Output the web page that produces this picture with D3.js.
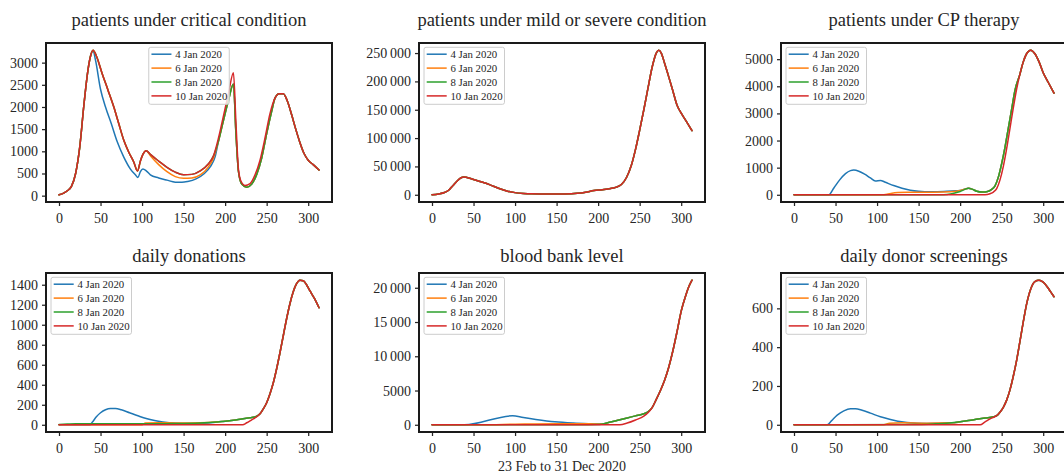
<!DOCTYPE html>
<html><head><meta charset="utf-8">
<script src="https://cdn.jsdelivr.net/npm/d3@7"></script>
<style>
html,body{margin:0;padding:0;background:#fff;}
svg{display:block;}
text{font-family:"Liberation Serif","Times New Roman",serif;fill:#262626;}
</style></head>
<body>
<svg id="chart" width="1064" height="476"></svg>
<script>
// ---------- DATA ----------
const seriesLabels = ["4 Jan 2020", "6 Jan 2020", "8 Jan 2020", "10 Jan 2020"];
const panelTitles = ["patients under critical condition", "patients under mild or severe condition",
  "patients under CP therapy", "daily donations", "blood bank level", "daily donor screenings"];
const xTicks = [0, 50, 100, 150, 200, 250, 300];
const xLabel = "23 Feb to 31 Dec 2020";

// patients under critical condition  [day, value]
const critical_4 = [[0,20],[5,50],[10,110],[15,210],[20,500],[25,1100],[30,2050],[35,2850],[38,3150],[41,3270],[44,3050],[50,2400],[56,2000],[63,1620],[70,1220],[78,870],[86,600],[92,470],[95,410],[98,540],[101,600],[105,560],[110,470],[120,400],[130,350],[140,305],[148,300],[155,320],[165,380],[175,500],[182,650],[188,880],[192,1230],[198,1700],[204,2150],[210,2520],[213,1400],[216,550],[220,260],[226,190],[232,260],[238,480],[244,850],[250,1400],[256,1900],[260,2200],[265,2300],[270,2300],[275,2130],[280,1830],[285,1500],[290,1200],[295,950],[300,800],[306,700],[313,580]];
const critical_6 = [[0,20],[5,50],[10,110],[15,210],[20,500],[25,1100],[30,2050],[35,2850],[38,3150],[41,3280],[45,3150],[52,2750],[59,2380],[66,2000],[72,1620],[78,1250],[84,980],[90,760],[94.5,555],[98,780],[101,930],[105,1015],[110,900],[120,700],[130,540],[140,430],[150,390],[160,400],[170,470],[180,650],[186,850],[192,1230],[198,1700],[204,2150],[210,2520],[213,1400],[216,550],[220,260],[226,190],[232,260],[238,480],[244,850],[250,1400],[256,1900],[260,2200],[265,2300],[270,2300],[275,2130],[280,1830],[285,1500],[290,1200],[295,950],[300,800],[306,700],[313,580]];
const critical_8 = [[0,20],[5,50],[10,110],[15,210],[20,500],[25,1100],[30,2050],[35,2850],[38,3150],[41,3280],[45,3150],[52,2750],[59,2380],[66,2000],[72,1620],[78,1250],[84,980],[90,760],[94.5,555],[98,780],[101,930],[105,1015],[110,930],[120,780],[130,640],[140,530],[150,470],[160,480],[170,560],[180,720],[186,900],[192,1230],[198,1700],[204,2150],[210,2520],[213,1400],[216,550],[220,260],[226,190],[232,260],[238,480],[244,850],[250,1400],[256,1900],[260,2200],[265,2300],[270,2300],[275,2130],[280,1830],[285,1500],[290,1200],[295,950],[300,800],[306,700],[313,580]];
const critical_10 = [[0,20],[5,50],[10,110],[15,210],[20,500],[25,1100],[30,2050],[35,2850],[38,3150],[41,3280],[45,3150],[52,2750],[59,2380],[66,2000],[72,1620],[78,1250],[84,980],[90,760],[94.5,555],[98,780],[101,930],[105,1015],[110,930],[120,780],[130,640],[140,530],[150,470],[160,480],[170,560],[180,720],[186,900],[192,1300],[198,1800],[204,2300],[210,2770],[213,1650],[216,600],[219,330],[224,230],[230,270],[236,470],[242,800],[248,1300],[254,1850],[260,2200],[265,2300],[270,2300],[275,2130],[280,1830],[285,1500],[290,1200],[295,950],[300,800],[306,700],[313,580]];

// patients under mild or severe condition (all four forecasts coincide)
const mild_4 = [[0,0],[8,1500],[15,4000],[20,8000],[25,16000],[30,24000],[35,30000],[38,31500],[42,30500],[50,27000],[60,22500],[70,17500],[80,11500],[90,6800],[100,3800],[110,2300],[120,1600],[140,1300],[160,1400],[175,2500],[185,4500],[195,7500],[205,9000],[215,11000],[222,13500],[228,18000],[234,30000],[240,52000],[245,80000],[250,114000],[255,150000],[260,188000],[265,225000],[270,250000],[273,255000],[276,250000],[280,232000],[285,208000],[290,183000],[295,158000],[300,144000],[306,130000],[313,113000]];
const mild_6 = mild_4;
const mild_8 = mild_4;
const mild_10 = mild_4;

// patients under CP therapy
const cp_4 = [[0,0],[42,0],[48,250],[55,550],[62,780],[68,890],[72,910],[78,870],[85,760],[92,620],[98,510],[104,530],[110,460],[120,340],[130,240],[140,170],[150,130],[165,110],[180,120],[195,150],[200,160],[205,200],[210,240],[215,200],[220,130],[227,100],[233,120],[238,200],[242,330],[246,650],[250,1150],[254,1750],[258,2450],[262,3150],[266,3850],[272,4450],[276,4900],[280,5200],[285,5330],[290,5200],[295,4900],[300,4500],[306,4150],[313,3750]];
const cp_6 = [[0,0],[105,0],[112,20],[118,60],[125,80],[140,90],[160,95],[180,100],[195,130],[200,160],[205,200],[210,240],[215,200],[220,130],[227,100],[233,120],[238,200],[242,330],[246,650],[250,1150],[254,1750],[258,2450],[262,3150],[266,3850],[272,4450],[276,4900],[280,5200],[285,5330],[290,5200],[295,4900],[300,4500],[306,4150],[313,3750]];
const cp_8 = [[0,0],[180,0],[190,40],[200,120],[205,190],[210,240],[215,200],[220,130],[227,100],[233,120],[238,200],[242,330],[246,650],[250,1150],[254,1750],[258,2450],[262,3150],[266,3850],[272,4450],[276,4900],[280,5200],[285,5330],[290,5200],[295,4900],[300,4500],[306,4150],[313,3750]];
const cp_10 = [[0,0],[230,0],[236,40],[240,100],[244,230],[248,550],[252,1050],[256,1700],[260,2450],[264,3200],[268,3900],[272,4450],[276,4900],[280,5200],[285,5330],[290,5200],[295,4900],[300,4500],[306,4150],[313,3750]];

// daily donations
const don_4 = [[0,0],[37,0],[40,25],[45,80],[50,120],[56,150],[62,162],[68,162],[75,150],[85,120],[95,90],[105,62],[115,42],[125,28],[140,16],[160,12],[180,18],[190,28],[200,35],[210,45],[220,58],[230,70],[238,85],[242,110],[246,160],[250,220],[254,310],[258,420],[262,560],[266,720],[270,890],[274,1060],[278,1210],[282,1330],[286,1410],[290,1445],[294,1440],[298,1400],[302,1340],[307,1270],[313,1170]];
const don_6 = [[0,0],[100,0],[104,18],[120,20],[140,18],[160,18],[180,22],[190,28],[200,35],[210,45],[220,58],[230,70],[238,85],[242,110],[246,160],[250,220],[254,310],[258,420],[262,560],[266,720],[270,890],[274,1060],[278,1210],[282,1330],[286,1410],[290,1445],[294,1440],[298,1400],[302,1340],[307,1270],[313,1170]];
const don_8 = [[0,3],[10,7],[20,10],[60,10],[100,10],[140,12],[170,18],[190,28],[200,35],[210,45],[220,58],[230,70],[238,85],[242,110],[246,160],[250,220],[254,310],[258,420],[262,560],[266,720],[270,890],[274,1060],[278,1210],[282,1330],[286,1410],[290,1445],[294,1440],[298,1400],[302,1340],[307,1270],[313,1170]];
const don_10 = [[0,0],[221,0],[226,20],[232,50],[238,80],[242,110],[246,160],[250,220],[254,310],[258,420],[262,560],[266,720],[270,890],[274,1060],[278,1210],[282,1330],[286,1410],[290,1445],[294,1440],[298,1400],[302,1340],[307,1270],[313,1170]];

// blood bank level
const bank_4 = [[0,0],[39,0],[97,1310],[110,1050],[125,780],[148,440],[170,260],[192,150],[204,100],[215,400],[225,700],[235,1000],[245,1300],[255,1600],[260,1900],[265,2500],[270,3700],[275,5000],[280,6500],[285,8400],[290,10800],[295,13600],[300,16600],[305,18700],[309,20100],[313,21100]];
const bank_6 = [[0,0],[60,0],[100,80],[150,150],[200,120],[204,110],[215,400],[225,700],[235,1000],[245,1300],[255,1600],[260,1900],[265,2500],[270,3700],[275,5000],[280,6500],[285,8400],[290,10800],[295,13600],[300,16600],[305,18700],[309,20100],[313,21100]];
const bank_8 = [[0,0],[150,0],[200,30],[204,80],[215,400],[225,700],[235,1000],[245,1300],[255,1600],[260,1900],[265,2500],[270,3700],[275,5000],[280,6500],[285,8400],[290,10800],[295,13600],[300,16600],[305,18700],[309,20100],[313,21100]];
const bank_10 = [[0,0],[226,0],[235,250],[245,700],[255,1250],[260,1750],[265,2500],[270,3700],[275,5000],[280,6500],[285,8400],[290,10800],[295,13600],[300,16600],[305,18700],[309,20100],[313,21100]];

// daily donor screenings
const scr_4 = [[0,0],[40,0],[45,20],[52,50],[60,72],[68,83],[74,83],[82,75],[92,60],[104,41],[115,28],[125,18],[136,12],[160,7],[190,10],[200,15],[215,25],[230,35],[240,41],[245,50],[248,65],[252,90],[256,127],[260,180],[264,250],[268,332],[272,430],[276,530],[280,622],[285,700],[290,738],[295,745],[300,735],[305,710],[309,685],[313,660]];
const scr_6 = [[0,0],[108,0],[115,8],[130,10],[160,8],[190,10],[200,15],[215,25],[230,35],[240,41],[245,50],[248,65],[252,90],[256,127],[260,180],[264,250],[268,332],[272,430],[276,530],[280,622],[285,700],[290,738],[295,745],[300,735],[305,710],[309,685],[313,660]];
const scr_8 = [[0,0],[150,2],[170,5],[190,10],[200,15],[215,25],[230,35],[240,41],[245,50],[248,65],[252,90],[256,127],[260,180],[264,250],[268,332],[272,430],[276,530],[280,622],[285,700],[290,738],[295,745],[300,735],[305,710],[309,685],[313,660]];
const scr_10 = [[0,0],[224,0],[230,15],[236,30],[243,45],[248,65],[252,90],[256,127],[260,180],[264,250],[268,332],[272,430],[276,530],[280,622],[285,700],[290,738],[295,745],[300,735],[305,710],[309,685],[313,660]];

const yTicks_critical = [0, 500, 1000, 1500, 2000, 2500, 3000];
const yTicks_mild = [0, 50000, 100000, 150000, 200000, 250000];
const yTicks_cp = [0, 1000, 2000, 3000, 4000, 5000];
const yTicks_don = [0, 200, 400, 600, 800, 1000, 1200, 1400];
const yTicks_bank = [0, 5000, 10000, 15000, 20000];
const yTicks_scr = [0, 200, 400, 600];

// ---------- LAYOUT / STYLE ----------
const colors = ["#1f77b4", "#ff7f0e", "#2ca02c", "#d62728"];
const panels = [
  {title: panelTitles[0], series: [critical_4, critical_6, critical_8, critical_10], ticks: yTicks_critical, x: 46, y: 43, legend: "center"},
  {title: panelTitles[1], series: [mild_4, mild_6, mild_8, mild_10], ticks: yTicks_mild, x: 419, y: 43, legend: "left"},
  {title: panelTitles[2], series: [cp_4, cp_6, cp_8, cp_10], ticks: yTicks_cp, x: 781, y: 43, legend: "left"},
  {title: panelTitles[3], series: [don_4, don_6, don_8, don_10], ticks: yTicks_don, x: 46, y: 273, legend: "left"},
  {title: panelTitles[4], series: [bank_4, bank_6, bank_8, bank_10], ticks: yTicks_bank, x: 419, y: 273, legend: "left", xlabel: true},
  {title: panelTitles[5], series: [scr_4, scr_6, scr_8, scr_10], ticks: yTicks_scr, x: 781, y: 273, legend: "left"}
];
const W = 286, H = 159;

function fmt(v) {
  if (Math.abs(v) >= 10000) {
    const s = String(v);
    return s.slice(0, s.length - 3) + "\u2009" + s.slice(s.length - 3);
  }
  return String(v);
}

const svg = d3.select("#chart");
const defs = svg.append("defs");

panels.forEach((p, i) => {
  const g = svg.append("g").attr("transform", `translate(${p.x},${p.y})`);
  const x = d3.scaleLinear().domain([-15.65, 328.65]).range([0, W]);
  const all = p.series.flat();
  const ymin = d3.min(all, d => d[1]), ymax = d3.max(all, d => d[1]);
  const pad = (ymax - ymin) * 0.05;
  const y = d3.scaleLinear().domain([ymin - pad, ymax + pad]).range([H, 0]);

  defs.append("clipPath").attr("id", "clip" + i)
    .append("rect").attr("x", 0).attr("y", 0).attr("width", W).attr("height", H);

  const line = d3.line().x(d => x(d[0])).y(d => y(d[1])).curve(d3.curveMonotoneX);
  const lg = g.append("g").attr("clip-path", `url(#clip${i})`);
  p.series.forEach((s, k) => {
    lg.append("path").datum(s).attr("d", line)
      .attr("fill", "none").attr("stroke", colors[k]).attr("stroke-width", 1.5)
      .attr("stroke-linejoin", "round").attr("stroke-linecap", "round");
  });

  // axes
  const xa = g.append("g").attr("transform", `translate(0,${H})`)
    .call(d3.axisBottom(x).tickValues(xTicks).tickSize(4).tickPadding(4).tickFormat(d3.format("d")));
  const ya = g.append("g")
    .call(d3.axisLeft(y).tickValues(p.ticks).tickSize(4).tickPadding(4).tickFormat(fmt));
  [xa, ya].forEach(a => {
    a.select(".domain").remove();
    a.selectAll(".tick line").attr("stroke", "#262626").attr("stroke-width", 1.25);
    a.selectAll(".tick text").attr("font-size", 14).attr("fill", "#262626")
      .style("font-family", '"Liberation Serif", serif');
  });
  xa.selectAll(".tick text").attr("dy", "0.9em");

  // frame
  g.append("rect").attr("x", 0).attr("y", 0).attr("width", W).attr("height", H)
    .attr("fill", "none").attr("stroke", "#1a1a1a").attr("stroke-width", 2);

  // title
  g.append("text").attr("x", W / 2).attr("y", i < 3 ? -17 : -11)
    .attr("text-anchor", "middle").attr("font-size", 18.5).text(p.title);

  if (p.xlabel) {
    g.append("text").attr("x", W / 2).attr("y", H + 39)
      .attr("text-anchor", "middle").attr("font-size", 14).text(xLabel);
  }

  // legend
  const lw = 80.5, lh = 57;
  const lx = p.legend === "center" ? (W - lw) / 2 : 5;
  const ly = 4.3;
  const leg = g.append("g").attr("transform", `translate(${lx},${ly})`);
  leg.append("rect").attr("width", lw).attr("height", lh).attr("rx", 2).attr("ry", 2)
    .attr("fill", "#fff").attr("fill-opacity", 0.8).attr("stroke", "#cccccc").attr("stroke-width", 1);
  seriesLabels.forEach((lab, k) => {
    const cy = 6.9 + k * 13.9;
    leg.append("line").attr("x1", 2.7).attr("x2", 22.7).attr("y1", cy).attr("y2", cy)
      .attr("stroke", colors[k]).attr("stroke-width", 1.5);
    leg.append("text").attr("x", 26.4).attr("y", cy).attr("dy", "0.35em")
      .attr("font-size", 10.8).text(lab);
  });
});
</script>
</body></html>
